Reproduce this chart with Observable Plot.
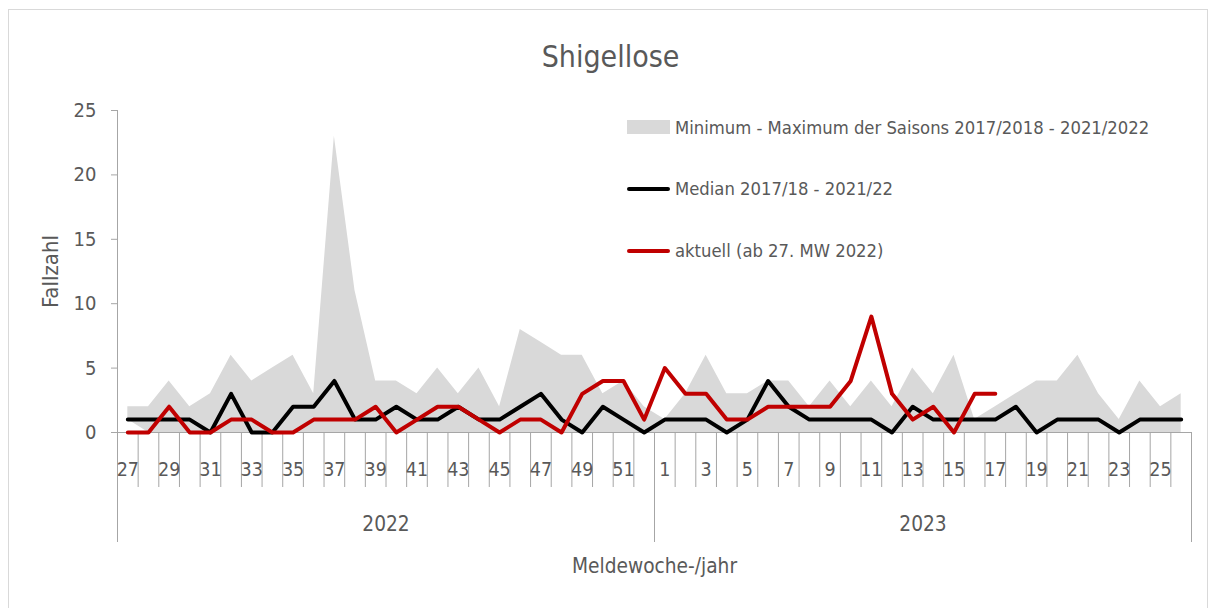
<!DOCTYPE html>
<html>
<head>
<meta charset="utf-8">
<script src="https://cdn.jsdelivr.net/npm/d3@7"></script>
<script src="https://cdn.jsdelivr.net/npm/@observablehq/plot@0.6"></script>
<style>
  html, body { margin: 0; padding: 0; background: #fff; }
  #wrap { position: relative; width: 1211px; height: 608px; overflow: hidden; font-family: "Liberation Sans Narrow", "DejaVu Sans Condensed", "Lato", sans-serif; color: #595959; }
  #border { position: absolute; left: 8px; top: 9px; width: 1200px; height: 640px; border: 1px solid #d9d9d9; box-sizing: border-box; }
  #title { position: absolute; left: 0; top: 37px; width: 1221px; text-align: center; font-size: 30px; line-height: 40px; }
  #chart { position: absolute; left: 0; top: 90px; }
  .leg { position: absolute; font-size: 18.3px; line-height: 24px; white-space: nowrap; }
  .sw { position: absolute; }
</style>
</head>
<body>
<div id="wrap">
  <div id="border"></div>
  <div id="title">Shigellose</div>
  <div id="chart"></div>
  <div class="sw" style="left:627px; top:120px; width:43px; height:14px; background:#d9d9d9;"></div>
  <div class="leg" style="left:675px; top:116px;">Minimum - Maximum der Saisons 2017/2018 - 2021/2022</div>
  <div class="sw" style="left:627px; top:187px; width:43px; height:4px; background:#000; border-radius:2px;"></div>
  <div class="leg" style="left:675px; top:177px;">Median 2017/18 - 2021/22</div>
  <div class="sw" style="left:627px; top:249px; width:43px; height:4px; background:#c00000; border-radius:2px;"></div>
  <div class="leg" style="left:675px; top:239px;">aktuell (ab 27. MW 2022)</div>
</div>
<script>
// Categories: reporting weeks 27/2022 .. 26/2023
const weeks2022 = [27,28,29,30,31,32,33,34,35,36,37,38,39,40,41,42,43,44,45,46,47,48,49,50,51,52];
const weeks2023 = [1,2,3,4,5,6,7,8,9,10,11,12,13,14,15,16,17,18,19,20,21,22,23,24,25,26];
const years = ["2022", "2023"];

// Minimum / maximum of seasons 2017/2018 - 2021/2022
const maxVals = [2,2,4,2,3,6,4,5,6,3,23,11,4,4,3,5,3,5,2,8,7,6,6,3,4,2,
                 1,3,6,3,3,4,4,2,4,2,4,2,5,3,6,1,2,3,4,4,6,3,1,4,2,3];
const minVals = [1,0,0,0,0,0,0,0,0,0,0,0,0,0,0,0,0,0,0,0,0,0,0,0,0,0,
                 0,0,0,0,0,0,0,0,0,0,0,0,0,0,0,0,0,0,0,0,0,0,0,0,0,0];
// Median 2017/18 - 2021/22
const median = [1,1,1,1,0,3,0,0,2,2,4,1,1,2,1,1,2,1,1,2,3,1,0,2,1,0,
                1,1,1,0,1,4,2,1,1,1,1,0,2,1,1,1,1,2,0,1,1,1,0,1,1,1];
// aktuell (ab 27. MW 2022)
const aktuell = [0,0,2,0,0,1,1,0,0,1,1,1,2,0,1,2,2,1,0,1,1,0,3,4,4,1,
                 5,3,3,1,1,2,2,2,2,4,9,3,1,2,0,3,3,null,null,null,null,null,null,null,null,null];
const yTicks = [0,5,10,15,20,25];

const weeks = [...weeks2022, ...weeks2023];
const rows = weeks.map((w, i) => ({
  i, week: w, year: i < weeks2022.length ? years[0] : years[1],
  min: minVals[i], max: maxVals[i], median: median[i], aktuell: aktuell[i]
}));
const n = rows.length;
const xDomain = [-0.5, n - 0.5];
const separators = d3.range(n + 1).map(k => k - 0.5);
const yearBounds = [-0.5, weeks2022.length - 0.5, n - 0.5];
const labelIdx = rows.filter(r => r.week % 2 === 1).map(r => r.i);
const yearCenters = [(weeks2022.length - 1) / 2, weeks2022.length + (weeks2023.length - 1) / 2];

const axisGrey = "#a6a6a6";
const font = '"Liberation Sans Narrow", "DejaVu Sans Condensed", "Lato", sans-serif';

const chart = Plot.plot({
  width: 1211,
  height: 510,
  marginLeft: 117,
  marginRight: 20,
  marginTop: 20,
  marginBottom: 168,
  x: {type: "linear", domain: xDomain, axis: null},
  y: {domain: [0, 25], axis: null},
  style: {fontFamily: font, fontSize: "19px", color: "#595959", background: "transparent", overflow: "visible"},
  marks: [
    Plot.areaY(rows, {x: "i", y1: "min", y2: "max", fill: "#d9d9d9"}),
    Plot.ruleX([xDomain[0]], {y1: 0, y2: 25, stroke: axisGrey}),
    Plot.axisY({ticks: yTicks, tickSize: 6, tickPadding: 15, stroke: axisGrey, fontSize: 20, label: null}),
    Plot.ruleY([0], {stroke: axisGrey}),
    Plot.axisX({ticks: separators, tickSize: 55, tickFormat: () => "", stroke: axisGrey, label: null}),
    Plot.axisX({ticks: yearBounds, tickSize: 110, tickFormat: () => "", stroke: axisGrey, label: null}),
    Plot.axisX({ticks: labelIdx, tickSize: 0, tickPadding: 30, tickFormat: i => String(weeks[i]), fontSize: 19.5, label: null}),
    Plot.axisX({ticks: yearCenters, tickSize: 0, tickPadding: 84, tickFormat: (c, k) => years[k], fontSize: 20.7, label: null}),
    Plot.text(["Meldewoche-/jahr"], {frameAnchor: "bottom", dy: 140, fontSize: 20.7}),
    Plot.text(["Fallzahl"], {frameAnchor: "left", dx: -67, rotate: -90, textAnchor: "middle", fontSize: 22}),
    Plot.lineY(rows, {x: "i", y: "median", stroke: "#000", strokeWidth: 4, strokeLinejoin: "round", strokeLinecap: "round"}),
    Plot.lineY(rows, {x: "i", y: "aktuell", stroke: "#c00000", strokeWidth: 4, strokeLinejoin: "round", strokeLinecap: "round"})
  ]
});
document.getElementById("chart").appendChild(chart);
</script>
</body>
</html>
